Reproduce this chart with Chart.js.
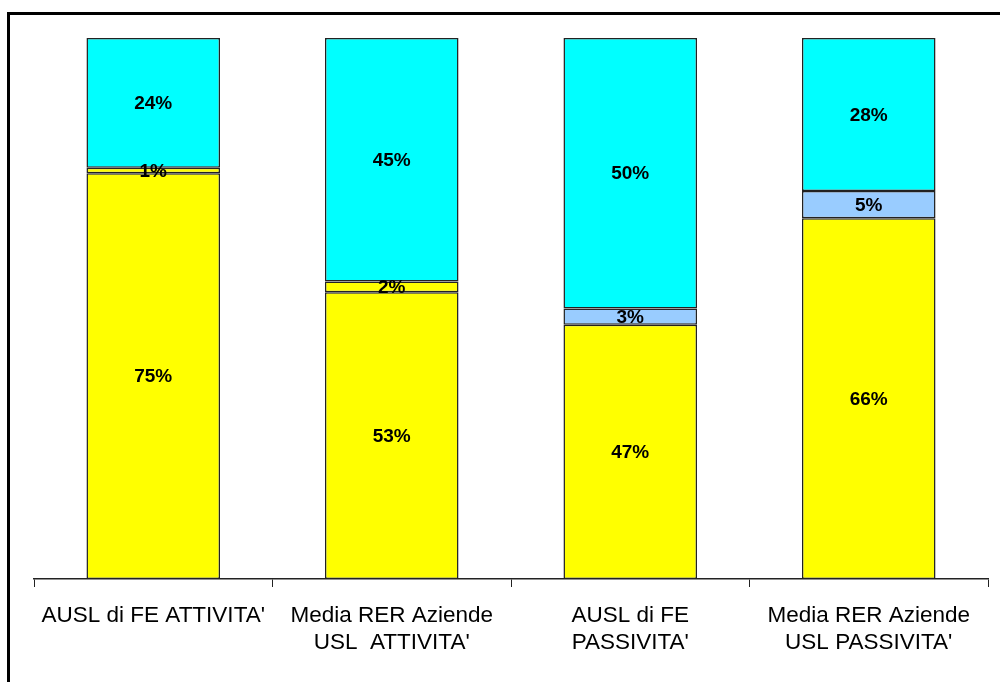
<!DOCTYPE html>
<html>
<head>
<meta charset="utf-8">
<script src="https://cdn.jsdelivr.net/npm/chart.js@4/dist/chart.umd.min.js"></script>
<style>
  html, body { margin: 0; padding: 0; background: #fff; }
  #wrap { width: 1000px; height: 682px; position: relative; }
</style>
</head>
<body>
<div id="wrap"><canvas id="chart" width="1000" height="682"></canvas></div>
<script>
// categories and values (percent, as printed on the bars)
var categories = [
    ["AUSL di FE ATTIVITA'"],
    ["Media RER Aziende", "USL  ATTIVITA'"],
    ["AUSL di FE", "PASSIVITA'"],
    ["Media RER Aziende", "USL PASSIVITA'"]
];
var bottomValues = [75, 53, 47, 66];
var middleValues = [1, 2, 3, 5];
var topValues = [24, 45, 50, 28];

var middleColors = ['#FFFF00', '#FFFF00', '#99CCFF', '#99CCFF'];

// 100% stacked: scale each column to its total
var totals = bottomValues.map(function (v, i) { return v + middleValues[i] + topValues[i]; });
function share(arr) {
    return arr.map(function (v, i) { return v / totals[i] * 100; });
}

// frame drawn round the chart (left and top edge only visible)
var framePlugin = {
    id: 'frame',
    beforeDraw: function (chart) {
        var c = chart.ctx;
        c.save();
        c.fillStyle = '#000';
        c.fillRect(7, 12, 3, 700);
        c.fillRect(7, 12, 1000, 3);
        c.restore();
    }
};

// value labels in the middle of each segment
var labelPlugin = {
    id: 'segLabels',
    afterDatasetsDraw: function (chart) {
        var c = chart.ctx;
        c.save();
        c.font = 'bold 19px "Liberation Sans", Arial, sans-serif';
        c.fillStyle = '#000';
        c.textAlign = 'center';
        c.textBaseline = 'middle';
        chart.data.datasets.forEach(function (ds, di) {
            chart.getDatasetMeta(di).data.forEach(function (bar, i) {
                var mid = (bar.y + bar.base) / 2;
                c.fillText(ds.raw[i] + '%', bar.x, mid + 1);
            });
        });
        c.restore();
    }
};

var ctx = document.getElementById('chart').getContext('2d');
var chart = new Chart(ctx, {
    type: 'bar',
    data: {
        labels: categories,
        datasets: [{
            raw: bottomValues,
            data: share(bottomValues),
            backgroundColor: '#FFFF00'
        }, {
            raw: middleValues,
            data: share(middleValues),
            backgroundColor: middleColors
        }, {
            raw: topValues,
            data: share(topValues),
            backgroundColor: '#00FFFF'
        }]
    },
    options: {
        responsive: false,
        animation: false,
        layout: { padding: { left: 34, right: 12, top: 38, bottom: 0 } },
        datasets: {
            bar: {
                borderColor: '#222',
                borderWidth: 1.5,
                borderSkipped: false,
                categoryPercentage: 1,
                barPercentage: 0.56
            }
        },
        plugins: {
            legend: { display: false },
            tooltip: { enabled: false }
        },
        scales: {
            x: {
                stacked: true,
                afterFit: function (axis) { axis.height = 103; },
                grid: {
                    offset: true,
                    drawOnChartArea: false,
                    drawTicks: true,
                    tickLength: 8,
                    color: '#222'
                },
                border: { color: '#222', width: 1.5 },
                ticks: {
                    color: '#000',
                    padding: 15,
                    maxRotation: 0,
                    autoSkip: false,
                    font: { family: '"Liberation Sans", Arial, sans-serif', size: 22.5, lineHeight: 1.2 }
                }
            },
            y: {
                stacked: true,
                display: false,
                min: 0,
                max: 100
            }
        }
    },
    plugins: [framePlugin, labelPlugin]
});
</script>
</body>
</html>
